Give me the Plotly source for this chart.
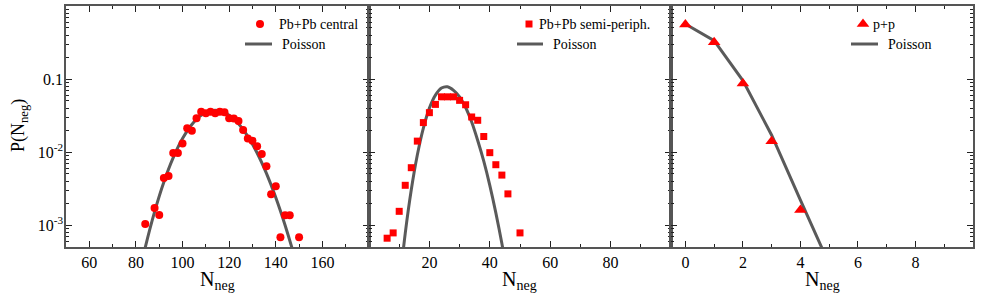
import plotly.graph_objects as go

# ---------------- data ----------------
central_n = [84, 88, 90, 92, 94, 96, 98, 100, 102, 104, 106, 108, 110, 112, 114, 116,
             118, 120, 122, 124, 126, 128, 130, 132, 134, 136, 138, 140, 142, 144, 146, 150]
central_p = [1.03e-3, 1.71e-3, 1.37e-3, 4.4e-3, 4.68e-3, 9.7e-3, 9.7e-3, 1.31e-2, 2.12e-2,
             1.95e-2, 2.9e-2, 3.56e-2, 3.39e-2, 3.56e-2, 3.39e-2, 3.56e-2, 3.5e-2, 2.9e-2,
             2.88e-2, 2.67e-2, 2.01e-2, 1.53e-2, 1.43e-2, 1.2e-2, 9.4e-3, 6.4e-3, 2.64e-3,
             3.4e-3, 6.8e-4, 1.36e-3, 1.36e-3, 6.8e-4]

pois_central_n = [80, 84, 88, 92, 96, 100, 104, 108, 112, 116, 120, 124, 128, 132, 136, 140,
                  144, 148, 152]
pois_central_p = [1.33e-4, 4.93e-4, 1.514e-3, 3.882e-3, 8.368e-3, 1.528e-2, 2.380e-2,
                  3.181e-2, 3.667e-2, 3.668e-2, 3.198e-2, 2.441e-2, 1.639e-2, 9.71e-3,
                  5.10e-3, 2.383e-3, 9.94e-4, 3.71e-4, 1.24e-4]

semi_n = [6, 8, 10, 12, 14, 16, 18, 20, 22, 24, 26, 28, 30, 32, 34, 36, 38, 40, 42, 44, 46, 50]
semi_p = [6.6e-4, 7.8e-4, 1.54e-3, 3.5e-3, 6.1e-3, 1.41e-2, 2.53e-2, 3.46e-2, 4.49e-2,
          5.7e-2, 5.7e-2, 5.7e-2, 5.1e-2, 4.44e-2, 3.02e-2, 2.72e-2, 1.63e-2, 9.8e-3,
          6.7e-3, 4.83e-3, 2.67e-3, 7.8e-4]

pois_semi_n = [10, 12, 14, 16, 18, 20, 22, 24, 26, 28, 30, 32, 34, 36, 38, 40, 42, 44, 46]
pois_semi_p = [1.40e-4, 7.69e-4, 3.04e-3, 9.10e-3, 2.127e-2, 3.99e-2, 6.02e-2, 7.525e-2,
               7.822e-2, 6.994e-2, 5.71e-2, 4.07e-2, 2.57e-2, 1.435e-2, 7.48e-3, 3.49e-3,
               1.467e-3, 5.58e-4, 1.94e-4]

pp_n = [0, 1, 2, 3, 4]
pp_p = [0.56, 0.32, 0.087, 0.014, 1.6e-3]

pois_pp_n = [0, 1, 2, 3, 4, 5]
pois_pp_p = [0.566, 0.335, 0.095, 0.017, 2.2e-3, 2.9e-4]

series_names = ["Pb+Pb central", "Pb+Pb semi-periph.", "p+p"]
fit_name = "Poisson"
x_title = "N<sub>neg</sub>"
y_title = "P(N<sub>neg</sub>)"

# tick values / labels
x1_ticks = [60, 80, 100, 120, 140, 160]
x1_minor = [70, 90, 110, 130, 150, 170]
x2_ticks = [20, 40, 60, 80]
x2_minor = [10, 30, 50, 70, 90]
x3_ticks = [0, 2, 4, 6, 8]
x3_minor = [1, 3, 5, 7, 9]
y_ticks = [1e-3, 1e-2, 0.1]
y_ticktext = ["10<sup>-3</sup>", "10<sup>-2</sup>", "0.1"]
y_minor = [m * 10.0 ** e for e in (-4, -3, -2, -1) for m in range(2, 10)]

# ---------------- style ----------------
FONT = "Liberation Serif"
RED = "#ff0000"
LINEC = "#5a5a5a"
AXC = "#555555"
TICKC = "#222222"

W, H = 981, 300
ML, MR, MT, MB = 66, 8, 6, 53
PW = W - ML - MR
PH = H - MT - MB
d1 = 303 / PW
d2 = 605 / PW

def px_x(px):
    return (px - ML) / PW

def px_y(py):
    return (H - MB - py) / PH

fig = go.Figure()

def add_panel(xs, ys, sym, size, name, fx, fy, fshape, idx):
    xa = "x" if idx == 1 else f"x{idx}"
    ya = "y" if idx == 1 else f"y{idx}"
    fig.add_trace(go.Scatter(x=fx, y=fy, mode="lines", name=fit_name,
                             line=dict(color=LINEC, width=3, shape=fshape, smoothing=0.8),
                             xaxis=xa, yaxis=ya, showlegend=False, hoverinfo="skip"))
    fig.add_trace(go.Scatter(x=xs, y=ys, mode="markers", name=name,
                             marker=dict(symbol=sym, size=size, color=RED, line=dict(width=0)),
                             xaxis=xa, yaxis=ya, showlegend=False, cliponaxis=True))

add_panel(central_n, central_p, "circle", 8, series_names[0],
          pois_central_n, pois_central_p, "spline", 1)
add_panel(semi_n, semi_p, "square", 7, series_names[1],
          pois_semi_n, pois_semi_p, "spline", 2)
add_panel(pp_n, pp_p, "triangle-up", 11, series_names[2],
          pois_pp_n, pois_pp_p, "linear", 3)

# ---------------- legend keys (overlay axis in pixel units) ----------------
legend_keys = [
    # (symbol, size, marker x, text x, line x0, line x1, poisson text x)
    ("circle", 8, 260, 277, 245, 272, 280),
    ("square", 7, 529, 537, 517, 543, 551),
    ("triangle-up", 11, 863, 871, 851, 878, 886),
]
row1_y, row2_y = 24, 44
annotations = []
for (sym, size, mx, tx, lx0, lx1, ptx), nm in zip(legend_keys, series_names):
    fig.add_trace(go.Scatter(x=[mx], y=[row1_y], mode="markers",
                             marker=dict(symbol=sym, size=size, color=RED, line=dict(width=0)),
                             xaxis="x4", yaxis="y4", showlegend=False, hoverinfo="skip",
                             cliponaxis=False))
    fig.add_trace(go.Scatter(x=[lx0, lx1], y=[row2_y, row2_y], mode="lines",
                             line=dict(color=LINEC, width=3),
                             xaxis="x4", yaxis="y4", showlegend=False, hoverinfo="skip",
                             cliponaxis=False))
    annotations.append(dict(x=tx, y=row1_y, xref="x4", yref="y4", text=nm, showarrow=False,
                            xanchor="left", yanchor="middle",
                            font=dict(family=FONT, size=14, color="black")))
    annotations.append(dict(x=ptx, y=row2_y, xref="x4", yref="y4", text=fit_name,
                            showarrow=False, xanchor="left", yanchor="middle",
                            font=dict(family=FONT, size=14, color="black")))

# axis titles
for cx in (217.5, 519.5, 822):
    annotations.append(dict(x=px_x(cx), y=px_y(280), xref="paper", yref="paper", text=x_title,
                            showarrow=False, xanchor="center", yanchor="middle",
                            font=dict(family=FONT, size=20, color="black")))
annotations.append(dict(x=px_x(19), y=px_y(126), xref="paper", yref="paper", text=y_title,
                        showarrow=False, xanchor="center", yanchor="middle", textangle=-90,
                        font=dict(family=FONT, size=18, color="black")))

def xaxis(domain, rng, ticks, minor, anchor):
    return dict(domain=domain, range=rng, anchor=anchor, tickmode="array", tickvals=ticks,
                automargin=False,
                showline=True, linecolor=AXC, linewidth=1.5, mirror="ticks",
                ticks="inside", ticklen=6, tickwidth=1, tickcolor=TICKC,
                showgrid=False, zeroline=False,
                tickfont=dict(family=FONT, size=16, color="black"),
                minor=dict(tickmode="array", tickvals=minor, ticks="inside", ticklen=3,
                           tickwidth=1, tickcolor=TICKC, showgrid=False))

def yaxis(anchor, labels):
    return dict(type="log", range=[-3.30103, 0], anchor=anchor, tickmode="array",
                tickvals=y_ticks, ticktext=y_ticktext, showticklabels=labels,
                automargin=False, ticklabelstandoff=-2,
                showline=True, linecolor=AXC, linewidth=1.5, mirror="ticks",
                ticks="inside", ticklen=6, tickwidth=1, tickcolor=TICKC,
                showgrid=False, zeroline=False,
                tickfont=dict(family=FONT, size=16, color="black"),
                minor=dict(tickmode="array", tickvals=y_minor, ticks="inside", ticklen=3,
                           tickwidth=1, tickcolor=TICKC, showgrid=False))

fig.update_layout(
    width=W, height=H,
    margin=dict(l=ML, r=MR, t=MT, b=MB, pad=0, autoexpand=False),
    paper_bgcolor="white", plot_bgcolor="rgba(0,0,0,0)",
    showlegend=False,
    font=dict(family=FONT, color="black"),
    xaxis=xaxis([0, d1], [50, 180], x1_ticks, x1_minor, "y"),
    xaxis2=xaxis([d1, d2], [0, 100], x2_ticks, x2_minor, "y2"),
    xaxis3=xaxis([d2, 1], [-0.5, 10], x3_ticks, x3_minor, "y3"),
    yaxis=yaxis("x", True),
    yaxis2=yaxis("x2", False),
    yaxis3=yaxis("x3", False),
    xaxis4=dict(domain=[0, 1], range=[ML, W - MR], anchor="y4", visible=False,
                fixedrange=True, automargin=False),
    yaxis4=dict(domain=[0, 1], range=[H - MB, MT], anchor="x4", visible=False,
                fixedrange=True, automargin=False),
    annotations=annotations,
)

fig.write_html("out.html", config={"displayModeBar": False},
               post_script="document.body.style.margin='0';document.body.style.padding='0';")
